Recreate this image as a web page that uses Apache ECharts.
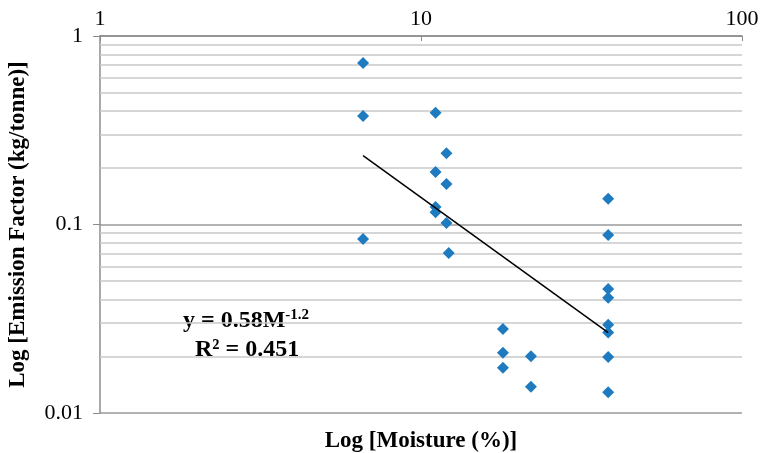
<!DOCTYPE html>
<html><head><meta charset="utf-8">
<script src="https://cdn.jsdelivr.net/npm/echarts@6/dist/echarts.min.js"></script>
<style>html,body{margin:0;padding:0;background:#fff}#c{width:762px;height:453px}</style>
</head><body><div id="c"></div>
<script>
const moisture = [6.6, 6.6, 6.6, 11.1, 12.0, 11.1, 12.0, 11.1, 11.1, 12.0, 12.2, 38.3, 38.3, 18.0, 18.0, 18.0, 22.0, 22.0, 38.3, 38.3, 38.3, 38.3, 38.3, 38.3];
const emission = [0.719, 0.376, 0.0838, 0.391, 0.239, 0.19, 0.164, 0.124, 0.116, 0.102, 0.0706, 0.137, 0.088, 0.0279, 0.0209, 0.0174, 0.020, 0.0138, 0.0455, 0.0409, 0.0294, 0.0267, 0.0198, 0.0129];
const trendX = [6.6, 38.3];
const trendY = [0.232, 0.0267];
const minorGrid = [0.02,0.03,0.04,0.05,0.06,0.07,0.08,0.09,0.2,0.3,0.4,0.5,0.6,0.7,0.8,0.9];
const xTicks = [1, 10, 100];
const yTicks = [0.01, 0.1, 1];
const serif = '"Liberation Serif","DejaVu Serif",serif';

const chart = echarts.init(document.getElementById('c'));
chart.setOption({
  animation: false,
  grid: {left: 100, right: 20, top: 36, bottom: 40, containLabel: false, outerBoundsMode: 'none'},
  xAxis: {
    type: 'log', logBase: 10, min: 1, max: 100, position: 'top',
    name: 'Log [Moisture (%)]', nameLocation: 'middle', nameGap: -(453 - 36 - 40) - 40,
    nameTextStyle: {fontFamily: serif, fontSize: 23, fontWeight: 'bold', color: '#000'},
    axisLine: {show: true, lineStyle: {color: '#8c8c8c', width: 1.5}},
    axisTick: {show: true, inside: true, length: 5, lineStyle: {color: '#8c8c8c'}},
    axisLabel: {fontFamily: serif, fontSize: 22, color: '#000', margin: 6,
      formatter: v => xTicks.includes(v) ? String(v) : ''},
    splitLine: {show: false}
  },
  yAxis: {
    type: 'log', logBase: 10, min: 0.01, max: 1,
    name: 'Log [Emission Factor (kg/tonne)]', nameLocation: 'middle', nameGap: 70, nameRotate: 90,
    nameTextStyle: {fontFamily: serif, fontSize: 23, fontWeight: 'bold', color: '#000'},
    axisLine: {show: true, lineStyle: {color: '#8c8c8c', width: 1.5}},
    axisTick: {show: true, inside: false, length: 7, lineStyle: {color: '#8c8c8c'}},
    axisLabel: {fontFamily: serif, fontSize: 22, color: '#000', margin: 17,
      formatter: v => { const t = yTicks.find(k => Math.abs(k - v) < 1e-9); return t !== undefined ? String(t) : ''; }},
    splitLine: {show: true, lineStyle: {color: '#9a9a9a', width: 1.5}}
  },
  series: [
    {
      type: 'scatter', symbol: 'diamond', symbolSize: 12,
      itemStyle: {color: '#1f7bc0', opacity: 1},
      data: moisture.map((m, i) => [m, emission[i]]),
      z: 5,
      markLine: {
        silent: true, symbol: 'none', label: {show: false},
        lineStyle: {color: '#c8c8c8', width: 1.5, type: 'solid'},
        data: minorGrid.map(v => ({yAxis: v})),
        z: 1
      }
    },
    {
      type: 'line', symbol: 'none', z: 6,
      lineStyle: {color: '#000', width: 1.5},
      data: trendX.map((m, i) => [m, trendY[i]])
    }
  ],
  graphic: [
    {type: 'text', left: 183, top: 308, style: {
      text: '{b|y = 0.58M}{s|-1.2}', fontFamily: serif,
      rich: {b: {fontFamily: serif, fontSize: 24, fontWeight: 'bold', fill: '#000'},
             s: {fontFamily: serif, fontSize: 15, fontWeight: 'bold', fill: '#000', padding: [0,0,11,0]}}
    }},
    {type: 'text', left: 195, top: 338, style: {
      text: 'R² = 0.451', fontFamily: serif, fontSize: 24, fontWeight: 'bold', fill: '#000'
    }}
  ]
});
</script></body></html>
